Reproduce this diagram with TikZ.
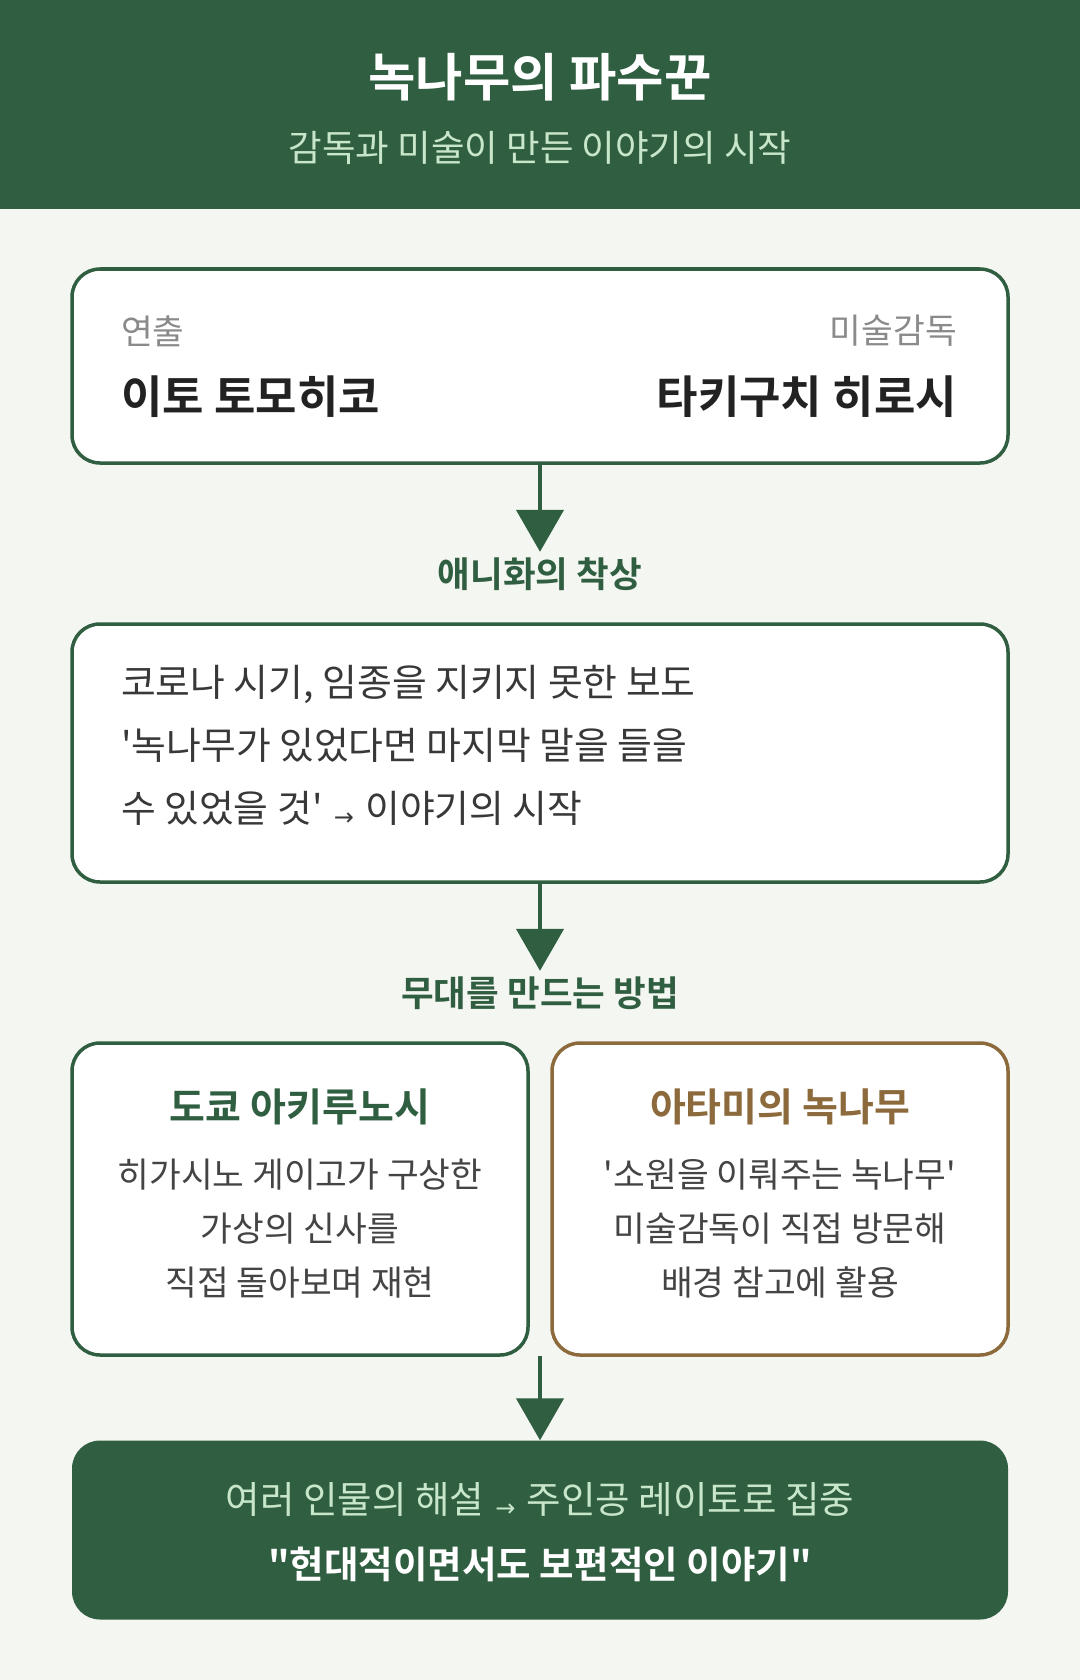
\documentclass[tikz,border=0pt]{standalone}
\usepackage{fontspec}
\setmainfont{Noto Sans CJK KR}[BoldFont={Noto Sans CJK KR Bold}, Ligatures=TeXOff]
\newfontfamily\arrowfont{DejaVu Sans}
\usetikzlibrary{arrows.meta}

\definecolor{leaf}{HTML}{2F5E41}
\definecolor{paper}{HTML}{F4F6F1}
\definecolor{mint}{HTML}{C8E6C9}
\definecolor{bark}{HTML}{8C6A3C}
\definecolor{ash}{HTML}{8A8A8A}
\definecolor{ink}{HTML}{222222}
\definecolor{body}{HTML}{444444}

\newcommand{\fsz}[2]{\fontsize{#1}{#2}\selectfont}
\newcommand{\smallarrow}{\hspace{0.3em}\raisebox{-0.08em}{\arrowfont\fsz{24}{24}→}\hspace{0.3em}}

\tikzset{
  card/.style={draw=leaf, line width=3.5pt, fill=white, rounded corners=28pt, inner sep=0pt},
  flow/.style={draw=leaf, line width=4.5pt, -{Triangle[width=47pt,length=42pt]}},
  steplabel/.style={text=leaf, font=\fsz{35.5}{42}\bfseries, inner sep=0pt, minimum height=44pt},
  role/.style={text=ash, font=\fsz{34.5}{40}, inner sep=0pt},
  person/.style={text=ink, font=\fsz{45}{52}\bfseries, inner sep=0pt},
  placetitle/.style={font=\fsz{39}{46}\bfseries, inner sep=0pt},
  placetext/.style={text=body, font=\fsz{34.5}{54}, align=center, inner sep=0pt},
}

\begin{document}
\begin{tikzpicture}[x=1pt, y=-1pt]
  \useasboundingbox[fill=paper] (0, 0) rectangle (1080, 1680);

  % header
  \fill[leaf] (0, 0) rectangle (1080, 209);
  \node[text=white, font=\fsz{51.5}{60}\bfseries] (title) at (540, 77) {녹나무의 파수꾼};
  \node[text=mint, font=\fsz{36.5}{43}] (subtitle) at (540, 148) {감독과 미술이 만든 이야기의 시작};

  % staff
  \node[card, minimum width=936pt, minimum height=194pt] (staff) at (540, 366) {};
  \node[role, anchor=west] (dirrole) at (121, 331) {연출};
  \node[person, anchor=west] (dirname) at (121, 397) {이토 토모히코};
  \node[role, anchor=east] (artrole) at (957, 331) {미술감독};
  \node[person, anchor=east] (artname) at (957, 397) {타키구치 히로시};

  \node[steplabel] (idea) at (540, 574) {애니화의 착상};
  \draw[flow] (staff) -- (idea);

  % origin of the story
  \node[card, minimum width=936pt, minimum height=258pt] (origin) at (540, 753) {};
  \node[text=ink!90, font=\fsz{37.8}{63}, align=left, anchor=west, inner sep=0pt] (origintext) at (121, 745)
    {코로나 시기, 임종을 지키지 못한 보도\\'녹나무가 있었다면 마지막 말을 들을\\수 있었을 것'\smallarrow 이야기의 시작};

  \node[steplabel] (stage) at (540, 993) {무대를 만드는 방법};
  \draw[flow] (origin) -- (stage);

  % locations
  \node[card, minimum width=456pt, minimum height=312pt] (tokyo) at (300, 1199) {};
  \node[placetitle, text=leaf] (tokyotitle) at (300, 1107) {도쿄 아키루노시};
  \node[placetext] (tokyotext) at (300, 1229) {히가시노 게이고가 구상한\\가상의 신사를\\직접 돌아보며 재현};

  \node[card, draw=bark, minimum width=456pt, minimum height=312pt] (atami) at (780, 1199) {};
  \node[placetitle, text=bark] (atamititle) at (780, 1107) {아타미의 녹나무};
  \node[placetext] (atamitext) at (780, 1229) {'소원을 이뤄주는 녹나무'\\미술감독이 직접 방문해\\배경 참고에 활용};

  % conclusion
  \coordinate (gap) at (540, 1356);
  \node[fill=leaf, rounded corners=28pt, minimum width=936pt, minimum height=179pt] (closing) at (540, 1530) {};
  \node[text=mint, font=\fsz{37.5}{44}, inner sep=0pt] (shift) at (540, 1499) {여러 인물의 해설\smallarrow 주인공 레이토로 집중};
  \node[text=white, font=\fsz{37.5}{44}\bfseries, inner sep=0pt] (theme) at (540, 1564) {"현대적이면서도 보편적인 이야기"};
  \draw[flow] (gap) -- (closing);
\end{tikzpicture}
\end{document}
